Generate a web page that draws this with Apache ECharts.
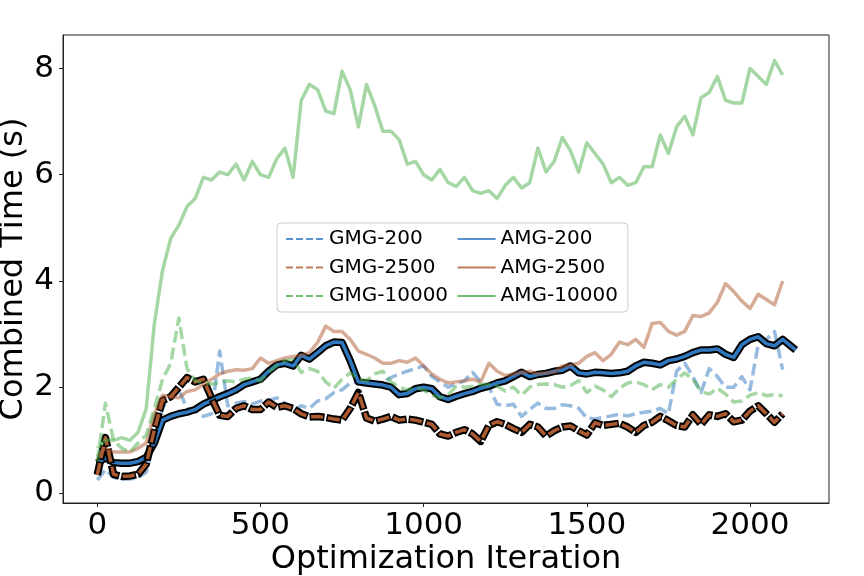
<!DOCTYPE html>
<html>
<head>
<meta charset="utf-8">
<script src="https://cdn.jsdelivr.net/npm/echarts@6/dist/echarts.min.js"></script>
<style>html,body{margin:0;padding:0;background:#fff;}</style>
</head>
<body>
<div id="chart" style="width:864px;height:576px;"></div>
<script type="text/javascript">
// iteration grid the curves were read at (last entry only used by AMG-200)
var iters = [0,25,50,75,100,125,150,175,200,225,250,275,300,325,350,375,400,425,450,475,
  500,525,550,575,600,625,650,675,700,725,750,775,800,825,850,875,900,925,950,975,
  1000,1025,1050,1075,1100,1125,1150,1175,1200,1225,1250,1275,1300,1325,1350,1375,1400,1425,1450,1475,
  1500,1525,1550,1575,1600,1625,1650,1675,1700,1725,1750,1775,1800,1825,1850,1875,1900,1925,1950,1975,
  2000,2025,2050,2075,2100,2140];

var gmg200 = [0.25,0.45,0.3,0.27,0.27,0.3,0.4,1.0,1.62,1.8,1.95,1.6,1.55,1.45,1.5,2.68,1.65,1.7,1.73,1.68,1.74,
  1.75,1.8,1.7,1.55,1.65,1.6,1.74,1.78,1.9,1.95,2.08,2.1,2.05,2.03,2.1,2.18,2.25,2.3,2.35,2.4,2.2,2.1,2.0,
  2.06,2.12,2.28,2.1,2.0,1.68,1.65,1.68,1.45,1.58,1.7,1.6,1.6,1.67,1.65,1.6,1.42,1.4,1.43,1.46,1.49,1.46,1.5,1.53,
  1.55,1.6,1.5,2.3,2.45,2.2,1.9,2.35,2.2,2.0,2.0,2.2,1.95,2.8,2.9,3.05,2.33];

var amg200 = [0.57,0.67,0.58,0.57,0.57,0.6,0.68,0.95,1.38,1.45,1.5,1.53,1.58,1.68,1.75,1.82,1.88,1.95,2.05,2.1,2.15,
  2.3,2.42,2.45,2.4,2.6,2.53,2.65,2.78,2.85,2.84,2.5,2.1,2.08,2.06,2.04,2.0,1.86,1.88,1.97,2.0,1.97,1.82,1.77,
  1.83,1.88,1.92,1.98,2.02,2.08,2.12,2.2,2.28,2.2,2.24,2.26,2.3,2.32,2.4,2.27,2.25,2.28,2.27,2.26,2.27,2.3,2.4,2.47,
  2.45,2.42,2.5,2.53,2.58,2.65,2.7,2.7,2.72,2.62,2.56,2.8,2.9,2.95,2.82,2.78,2.9,2.7];

var gmg2500 = [0.35,1.05,0.36,0.32,0.33,0.36,0.55,1.2,1.75,1.82,2.0,2.18,2.1,2.15,1.8,1.47,1.45,1.6,1.65,1.58,1.58,
  1.72,1.62,1.65,1.6,1.5,1.44,1.45,1.43,1.4,1.38,1.6,1.9,1.42,1.36,1.4,1.45,1.38,1.4,1.38,1.34,1.3,1.12,1.08,
  1.15,1.2,1.12,0.98,1.28,1.35,1.3,1.22,1.15,1.3,1.25,1.08,1.18,1.25,1.27,1.18,1.1,1.33,1.28,1.3,1.32,1.25,1.15,1.28,
  1.34,1.45,1.37,1.28,1.25,1.48,1.3,1.48,1.45,1.5,1.35,1.38,1.55,1.65,1.5,1.34,1.5];

var amg2500 = [0.7,0.85,0.78,0.78,0.78,0.85,0.95,1.5,1.85,1.82,1.8,1.92,1.95,2.05,2.15,2.25,2.3,2.33,2.32,2.35,2.55,
  2.45,2.5,2.55,2.58,2.6,2.65,2.84,3.15,3.05,3.05,2.9,2.68,2.62,2.55,2.45,2.45,2.5,2.47,2.55,2.4,2.25,2.15,2.08,
  2.1,2.12,2.15,2.1,2.45,2.3,2.22,2.25,2.28,2.3,2.25,2.27,2.28,2.4,2.42,2.45,2.58,2.65,2.5,2.62,2.85,2.8,2.9,2.75,
  3.2,3.22,3.05,2.98,3.05,3.35,3.33,3.4,3.6,3.95,3.8,3.62,3.48,3.75,3.65,3.55,4.0];

var gmg10000 = [0.6,1.7,1.0,0.85,0.78,0.95,1.1,1.6,2.15,2.45,3.3,2.35,2.12,2.08,2.06,2.08,2.12,2.1,2.15,2.18,2.12,
  2.28,2.4,2.5,2.52,2.28,2.35,2.3,2.1,1.98,2.15,2.27,2.15,2.12,2.25,2.3,2.1,2.0,1.95,2.0,1.95,1.85,1.8,1.85,
  2.02,2.0,2.02,2.05,2.05,2.02,1.93,2.0,1.85,2.0,2.05,2.06,2.05,2.0,2.03,2.12,1.9,2.02,1.95,1.82,1.98,2.08,2.1,2.05,
  1.95,2.05,2.0,2.15,2.27,2.15,1.92,1.87,1.98,1.87,1.72,1.74,1.85,1.9,1.84,1.86,1.84];

var amg10000 = [0.85,1.0,1.0,1.05,1.0,1.15,1.6,3.2,4.2,4.8,5.05,5.4,5.55,5.95,5.9,6.05,6.0,6.2,5.9,6.25,6.0,
  5.95,6.3,6.5,5.95,7.4,7.7,7.6,7.2,7.15,7.95,7.6,6.9,7.7,7.3,6.82,6.82,6.66,6.2,6.25,6.0,5.9,6.1,5.85,
  5.78,5.95,5.7,5.65,5.7,5.55,5.8,5.95,5.75,5.85,6.5,6.05,6.25,6.7,6.45,6.05,6.6,6.4,6.2,5.85,5.95,5.8,5.85,6.15,
  6.15,6.75,6.4,6.9,7.1,6.75,7.45,7.55,7.85,7.4,7.35,7.35,8.0,7.85,7.7,8.15,7.88];

var xTicks = [0, 500, 1000, 1500, 2000];
var yTicks = [0, 2, 4, 6, 8];
var legendNames = ['GMG-200', 'GMG-2500', 'GMG-10000', 'AMG-200', 'AMG-2500', 'AMG-10000'];

var blue = '48,120,191', brown = '173,90,48', green = '76,176,76';
var dash = [12, 5];

function pts(vals) {
    return vals.map(function (v, i) { return [iters[i], v]; });
}

function line(name, vals, color, type, width, offset) {
    var s = {
        name: name,
        type: 'line',
        data: pts(vals),
        showSymbol: false,
        symbol: 'none',
        silent: true,
        lineStyle: { color: color, width: width, type: type, cap: 'butt', join: 'round' }
    };
    if (offset) { s.lineStyle.dashOffset = offset; }
    return s;
}

// legend entries: plain lines (no outline), no marker
function legendItem(name, rgb, dashed) {
    return {
        name: name,
        itemStyle: { color: 'rgba(0,0,0,0)', borderWidth: 0, opacity: 0 },
        lineStyle: { color: 'rgba(' + rgb + ',0.8)', width: 2, opacity: 1, type: dashed ? [7, 3] : 'solid' }
    };
}

var chart = echarts.init(document.getElementById('chart'));
var option = {
    animation: false,
    textStyle: { fontFamily: 'DejaVu Sans' },
    grid: {
        left: 63, right: 35, top: 35, bottom: 73,
        containLabel: false, outerBoundsMode: 'none',
        show: true, borderColor: '#222', borderWidth: 1, backgroundColor: '#fff'
    },
    legend: {
        orient: 'vertical',
        left: 277, top: 223,
        height: 80,
        padding: [6, 10, 6, 8],
        itemGap: 8.5,
        itemWidth: 38,
        itemHeight: 14,
        backgroundColor: 'rgba(255,255,255,0.8)',
        borderColor: '#ccc',
        borderWidth: 1,
        borderRadius: 4,
        selectedMode: false,
        textStyle: { fontSize: 20, lineHeight: 20, width: 112, overflow: 'none', color: '#000', fontFamily: 'DejaVu Sans' },
        data: [
            legendItem(legendNames[0], blue, true),
            legendItem(legendNames[1], brown, true),
            legendItem(legendNames[2], green, true),
            legendItem(legendNames[3], blue, false),
            legendItem(legendNames[4], brown, false),
            legendItem(legendNames[5], green, false)
        ]
    },
    xAxis: {
        type: 'value',
        min: -105, max: 2242,
        name: 'Optimization Iteration',
        nameLocation: 'middle',
        nameGap: 41,
        nameMoveOverlap: false,
        nameTextStyle: { fontSize: 32, color: '#000', fontFamily: 'DejaVu Sans' },
        axisLine: { show: true, onZero: false, lineStyle: { color: '#222', width: 1 } },
        axisTick: { show: true, length: 4, lineStyle: { color: '#222' }, customValues: xTicks },
        axisLabel: {
            fontSize: 31, color: '#000', margin: 7, fontFamily: 'DejaVu Sans', customValues: xTicks,
            formatter: function (v) { return String(v); }
        },
        splitLine: { show: false }
    },
    yAxis: {
        type: 'value',
        min: -0.18, max: 8.63,
        name: 'Combined Time (s)',
        nameLocation: 'middle',
        nameGap: 33,
        nameMoveOverlap: false,
        nameTextStyle: { fontSize: 32, color: '#000', fontFamily: 'DejaVu Sans' },
        axisLine: { show: true, onZero: false, lineStyle: { color: '#222', width: 1 } },
        axisTick: { show: true, length: 4, lineStyle: { color: '#222' }, customValues: yTicks },
        axisLabel: {
            fontSize: 31, color: '#000', margin: 9, fontFamily: 'DejaVu Sans', customValues: yTicks,
            formatter: function (v) { return String(v); }
        },
        splitLine: { show: false }
    },
    series: [
        line('GMG-200', gmg200, 'rgba(' + blue + ',0.5)', dash, 3.5),
        line('AMG-200 edge', amg200, '#000', 'solid', 7.5),
        line('AMG-200', amg200, 'rgb(' + blue + ')', 'solid', 3.5),
        line('GMG-2500 edge', gmg2500, '#000', [15, 2], 7.5, 1.5),
        line('GMG-2500', gmg2500, 'rgb(' + brown + ')', dash, 3.5),
        line('AMG-2500', amg2500, 'rgba(' + brown + ',0.5)', 'solid', 3.5),
        line('GMG-10000', gmg10000, 'rgba(' + green + ',0.5)', dash, 3.5),
        line('AMG-10000', amg10000, 'rgba(' + green + ',0.5)', 'solid', 3.5)
    ]
};
chart.setOption(option);
</script>
</body>
</html>
